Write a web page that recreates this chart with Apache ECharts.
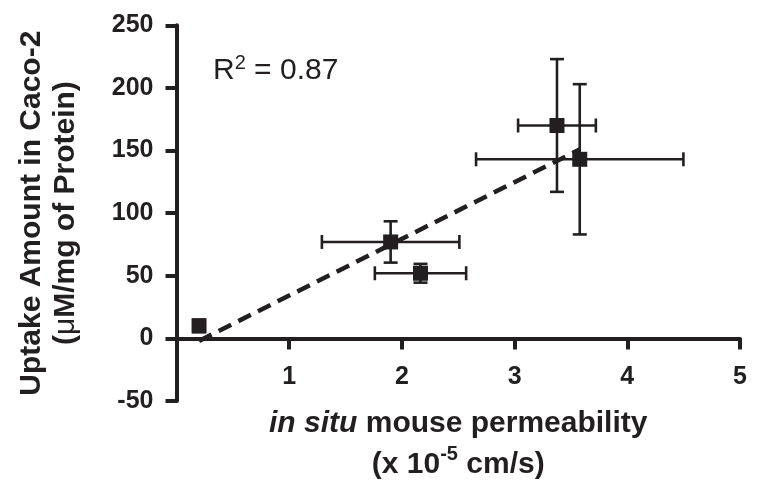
<!DOCTYPE html>
<html>
<head>
<meta charset="utf-8">
<script src="https://cdn.jsdelivr.net/npm/echarts@6/dist/echarts.min.js"></script>
<style>
  html, body { margin: 0; padding: 0; background: #fff; }
  #chart { width: 762px; height: 500px; }
</style>
</head>
<body>
<div id="chart"></div>
<script>
// values
const xValues = [0.2, 1.9, 2.165, 3.376, 3.578]
const yValues = [10, 77, 52, 170, 143]
const xErrors = [0.05, 0.61, 0.405, 0.345, 0.92]
const yErrors = [5, 16.5, 7.5, 53, 60]
// dashed fit line, end points as seen
const trendX = [0.2, 3.58]
const trendY = [-2, 151]

const ink = '#231f20'

const points = xValues.map((x, i) => [x, yValues[i]])
const bars = xValues.map((x, i) => [x, yValues[i], xErrors[i], yErrors[i]])
const trend = trendX.map((x, i) => [x, trendY[i]])

function renderErrorBar (params, api) {
  const x = api.value(0)
  const y = api.value(1)
  const ex = api.value(2)
  const ey = api.value(3)
  const left = api.coord([x - ex, y])
  const right = api.coord([x + ex, y])
  const top = api.coord([x, y + ey])
  const bottom = api.coord([x, y - ey])
  const cap = 7
  const style = { stroke: ink, lineWidth: 2.6 }
  const seg = (x1, y1, x2, y2) => ({ type: 'line', shape: { x1, y1, x2, y2 }, style })
  return {
    type: 'group',
    children: [
      seg(left[0], left[1], right[0], right[1]),
      seg(left[0], left[1] - cap, left[0], left[1] + cap),
      seg(right[0], right[1] - cap, right[0], right[1] + cap),
      seg(top[0], top[1], bottom[0], bottom[1]),
      seg(top[0] - cap, top[1], top[0] + cap, top[1]),
      seg(bottom[0] - cap, bottom[1], bottom[0] + cap, bottom[1])
    ]
  }
}

const chart = echarts.init(document.getElementById('chart'), null, { renderer: 'canvas' })
const option = {
  backgroundColor: '#ffffff',
  animation: false,
  textStyle: { fontFamily: 'Liberation Sans, Arial, sans-serif', color: ink },
  title: {
    text: '{a|R}{s|2}{a| = 0.87}',
    left: 208,
    top: 48,
    textStyle: {
      rich: {
        a: { fontSize: 30, fontWeight: 'normal', color: ink, lineHeight: 36, fontFamily: 'Liberation Sans, Arial, sans-serif' },
        s: { fontSize: 20, fontWeight: 'normal', color: ink, lineHeight: 22, verticalAlign: 'top', fontFamily: 'Liberation Sans, Arial, sans-serif' }
      }
    }
  },
  grid: {
    left: 176.5,
    right: 22,
    top: 25.3,
    bottom: 99,
    containLabel: false,
    outerBoundsMode: 'none'
  },
  xAxis: {
    type: 'value',
    min: 0,
    max: 5,
    interval: 1,
    splitLine: { show: false },
    axisLine: { onZero: true, lineStyle: { color: ink, width: 4 } },
    axisTick: { length: 11, lineStyle: { color: ink, width: 4 } },
    axisLabel: {
      showMinLabel: false,
      margin: -36,
      fontSize: 25,
      fontWeight: 'bold',
      color: ink
    },
    name: '{i|in situ} mouse permeability\n(x 10{sup|-5} cm/s)',
    nameLocation: 'middle',
    nameGap: 2,
    nameMoveOverlap: false,
    nameTextStyle: {
      fontSize: 30,
      fontWeight: 'bold',
      color: ink,
      lineHeight: 41,
      rich: {
        i: { fontSize: 30, fontWeight: 'bold', fontStyle: 'italic', color: ink, lineHeight: 41 },
        sup: { fontSize: 20, fontWeight: 'bold', color: ink, lineHeight: 26, verticalAlign: 'top' }
      }
    }
  },
  yAxis: {
    type: 'value',
    min: -50,
    max: 250,
    interval: 50,
    splitLine: { show: false },
    axisLine: { lineStyle: { color: ink, width: 4 } },
    axisTick: { length: 11, lineStyle: { color: ink, width: 4 } },
    axisLabel: {
      margin: 23,
      fontSize: 25,
      fontWeight: 'bold',
      color: ink
    },
    name: 'Uptake Amount in Caco-2\n({mu|μ}M/mg of Protein)',
    nameLocation: 'middle',
    nameGap: 94,
    nameMoveOverlap: false,
    nameTextStyle: {
      fontSize: 30,
      fontWeight: 'bold',
      color: ink,
      lineHeight: 34,
      rich: {
        mu: { fontSize: 30, fontWeight: 'normal', color: ink, lineHeight: 34 }
      }
    }
  },
  series: [
    {
      type: 'line',
      data: trend,
      symbol: 'none',
      lineStyle: { color: ink, width: 4.5, type: [14, 8] },
      z: 2
    },
    {
      type: 'custom',
      data: bars,
      renderItem: renderErrorBar,
      z: 3
    },
    {
      type: 'scatter',
      data: points,
      symbol: 'rect',
      symbolSize: 15,
      itemStyle: { color: ink, opacity: 1 },
      z: 4
    }
  ]
}
chart.setOption(option)
</script>
</body>
</html>
